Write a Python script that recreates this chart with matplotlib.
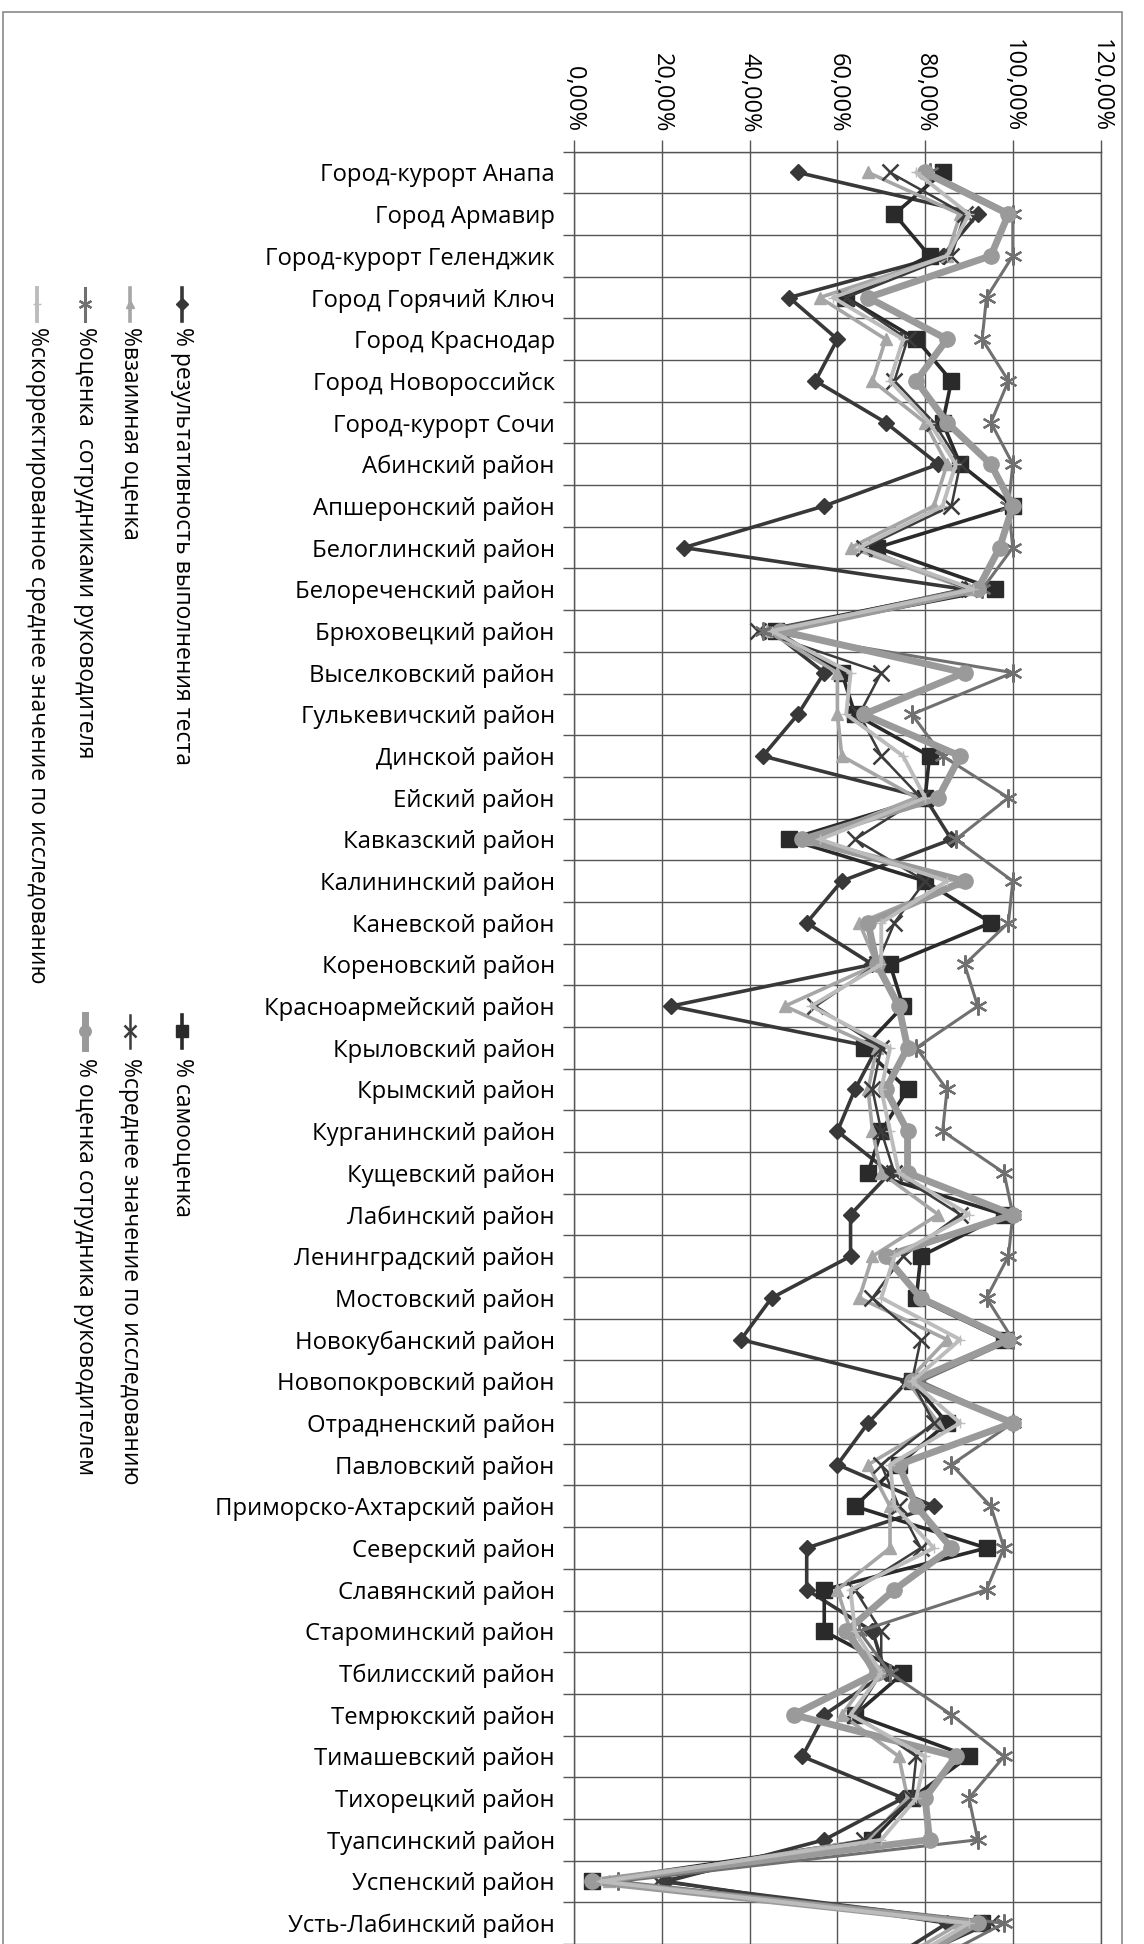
import matplotlib
matplotlib.use("Agg")
import matplotlib.pyplot as plt
from matplotlib.lines import Line2D
from matplotlib.patches import Rectangle
from matplotlib.ticker import FuncFormatter, MultipleLocator

plt.rcParams["font.family"] = ["Open Sans", "DejaVu Sans"]

categories = [
    "Город-курорт Анапа", "Город Армавир", "Город-курорт Геленджик",
    "Город Горячий Ключ", "Город Краснодар", "Город Новороссийск",
    "Город-курорт Сочи", "Абинский район", "Апшеронский район",
    "Белоглинский район", "Белореченский район", "Брюховецкий район",
    "Выселковский район", "Гулькевичский район", "Динской район",
    "Ейский район", "Кавказский район", "Калининский район",
    "Каневской район", "Кореновский район", "Красноармейский район",
    "Крыловский район", "Крымский район", "Курганинский район",
    "Кущевский район", "Лабинский район", "Ленинградский район",
    "Мостовский район", "Новокубанский район", "Новопокровский район",
    "Отрадненский район", "Павловский район", "Приморско-Ахтарский район",
    "Северский район", "Славянский район", "Староминский район",
    "Тбилисский район", "Темрюкский район", "Тимашевский район",
    "Тихорецкий район", "Туапсинский район", "Успенский район",
    "Усть-Лабинский район", "Щербиновский район",
]
n_visible = 43  # the scan is cut off below Усть-Лабинский район

# values in %
test_result = [51, 92, 84, 49, 60, 55, 71, 83, 57, 25, 89, 45, 57, 51, 43,
               80, 86, 61, 53, 68, 22, 69, 64, 60, 72, 63, 63, 45, 38, 76,
               67, 60, 82, 53, 53, 68, 71, 57, 52, 75, 57, 21, 85, 70]
self_eval = [84, 73, 81, 62, 78, 86, 84, 88, 100, 69, 96, 46, 61, 64, 81,
             80, 49, 80, 95, 72, 75, 66, 76, 70, 67, 98, 79, 78, 98, 77,
             85, 74, 64, 94, 57, 57, 75, 64, 90, 77, 68, 4, 93, 75]
mutual_eval = [67, 88, 85, 56, 71, 68, 80, 85, 82, 63, 90, 44, 60, 60, 61,
               78, 54, 88, 65, 69, 48, 69, 67, 68, 70, 83, 68, 65, 85, 76,
               83, 67, 72, 72, 60, 63, 68, 61, 74, 76, 67, 8, 88, 72]
mean_eval = [72, 89, 86, 62, 76, 73, 82, 88, 86, 66, 90, 42, 70, 65, 70,
             79, 64, 80, 73, 69, 55, 70, 68, 70, 73, 88, 75, 68, 79, 77,
             82, 70, 74, 79, 64, 70, 70, 64, 78, 77, 66, 19, 95, 74]
staff_on_head = [81, 100, 100, 94, 93, 99, 95, 100, 99, 100, 93, 43, 100, 77, 84,
                 99, 87, 100, 99, 89, 92, 78, 85, 84, 98, 100, 99, 94, 100, 79,
                 100, 86, 95, 98, 94, 65, 72, 86, 98, 90, 92, 10, 98, 80]
head_on_staff = [80, 99, 95, 67, 85, 78, 85, 95, 100, 97, 92, 47, 89, 66, 88,
                 83, 52, 89, 67, 69, 74, 76, 71, 76, 76, 100, 71, 79, 99, 77,
                 100, 74, 78, 86, 73, 62, 69, 50, 87, 80, 81, 4, 92, 75]
corrected_mean = [78, 90, 85, 59, 75, 72, 81, 87, 84, 65, 91, 45, 63, 62, 75,
                  80, 56, 85, 70, 70, 54, 72, 70, 72, 74, 90, 73, 70, 88, 77,
                  88, 72, 73, 82, 63, 64, 70, 63, 80, 78, 70, 6, 90, 74]

series = [
    ("% результативность выполнения теста", test_result,
     dict(color="#383838", lw=2.6, marker="D", ms=8)),
    ("% самооценка", self_eval,
     dict(color="#2a2a2a", lw=2.6, marker="s", ms=11)),
    ("%взаимная оценка", mutual_eval,
     dict(color="#a6a6a6", lw=2.6, marker="^", ms=8)),
    ("%среднее значение по исследованию", mean_eval,
     dict(color="#3c3c3c", lw=1.8, marker="x", ms=11, mew=1.8)),
    ("%оценка  сотрудниками руководителя", staff_on_head,
     dict(color="#707070", lw=2.2, marker=(6, 2, 0), ms=13, mew=1.6)),
    ("% оценка сотрудника руководителем", head_on_staff,
     dict(color="#9a9a9a", lw=5.0, marker="o", ms=11)),
    ("%скорректированное среднее значение по исследованию", corrected_mean,
     dict(color="#bcbcbc", lw=2.8, marker="+", ms=7)),
]

fig = plt.figure(figsize=(11.44, 19.44), dpi=100)
ax = fig.add_axes([0.502, 0.0, 0.460, 0.922])

ypos = list(range(len(categories)))
for label, vals, style in series:
    ax.plot([v / 100 for v in vals], ypos, label=label, **style)

ax.set_xlim(0, 1.2)
ax.set_ylim(n_visible - 0.5, -0.5)

ax.xaxis.tick_top()
ax.xaxis.set_major_locator(MultipleLocator(0.2))
ax.xaxis.set_major_formatter(FuncFormatter(lambda v, p: f"{v * 100:.2f}%".replace(".", ",")))
for t in ax.get_xticklabels():
    t.set_rotation(-90)
ax.tick_params(axis="x", which="major", length=9, width=1, color="#555555",
               labelsize=17, pad=5)

ax.set_yticks(ypos[:n_visible])
ax.set_yticklabels(categories[:n_visible])
ax.yaxis.set_minor_locator(MultipleLocator(1, offset=0.5))
ax.tick_params(axis="y", which="major", length=0, labelsize=17.2, pad=14)
ax.tick_params(axis="y", which="minor", length=8, width=1, color="#555555")

ax.grid(axis="x", which="major", color="#555555", lw=1)
ax.grid(axis="y", which="minor", color="#555555", lw=1)
ax.set_axisbelow(True)
for s in ax.spines.values():
    s.set_color("#555555")
    s.set_linewidth(1)
ax.spines["bottom"].set_visible(False)

# rotated legend, drawn by hand to match the scan
leg_cols = [0.159, 0.114, 0.074, 0.0325]
leg_rows = [(0.852, 0.835, 0.832), (0.478, 0.461, 0.456)]
order = [(0, 0, 0), (1, 0, 1), (2, 1, 0), (3, 1, 1), (4, 2, 0), (5, 2, 1), (6, 3, 0)]
for idx, col, row in order:
    label, _, style = series[idx]
    x = leg_cols[col]
    y0, y1, yt = leg_rows[row]
    st = dict(style)
    ms = st.pop("ms") * 0.75
    st.pop("marker")
    fig.add_artist(Line2D([x, x], [y0, y1], transform=fig.transFigure, **st))
    fig.add_artist(Line2D([x], [(y0 + y1) / 2], transform=fig.transFigure,
                          marker=style["marker"], ms=ms, color=style["color"],
                          mew=style.get("mew", 1.0), lw=0))
    fig.text(x, yt, label, rotation=-90, ha="center", va="top", fontsize=16.5)

fig.add_artist(Rectangle((0.003, -0.01), 0.978, 1.004, transform=fig.transFigure,
                         fill=False, edgecolor="#8a8a8a", lw=1.2))

fig.savefig("out.png", dpi=100)
